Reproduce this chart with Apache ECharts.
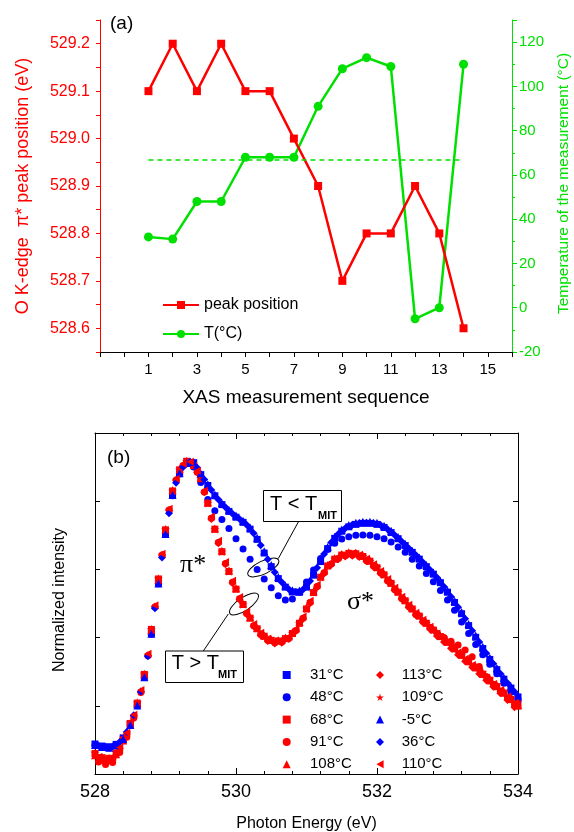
<!DOCTYPE html>
<html>
<head>
<meta charset="utf-8">
<script src="https://cdn.jsdelivr.net/npm/echarts@6/dist/echarts.min.js"></script>
<style>
  html, body { margin: 0; padding: 0; background: #fff; }
  #chart { width: 574px; height: 832px; }
</style>
</head>
<body>
<div id="chart"></div>
<script>
// ---------- Panel (a): peak position and temperature over the XAS sequence ----------
const sequence = [1, 2, 3, 4, 5, 6, 7, 8, 9, 10, 11, 12, 13, 14];
const peakPosition = [529.1, 529.2, 529.1, 529.2, 529.1, 529.1, 529.0, 528.9, 528.7, 528.8, 528.8, 528.9, 528.8, 528.6];
const temperature = [32, 31, 48, 48, 68, 68, 68, 91, 108, 113, 109, -5, 0, 110];
const tMit = 67;              // transition temperature, dashed guide
const tMitRange = [1, 14];    // sequence span of the guide

// ---------- Panel (b): O K-edge spectra ----------
// two energy grids (scans were recorded on interleaved grids)
const energiesA = [528.0, 528.1, 528.2, 528.3, 528.4, 528.5, 528.6, 528.7, 528.8, 528.9,
  529.0, 529.1, 529.2, 529.3, 529.4, 529.5, 529.6, 529.7, 529.8, 529.9,
  530.0, 530.1, 530.2, 530.3, 530.4, 530.5, 530.6, 530.7, 530.8, 530.9,
  531.0, 531.1, 531.2, 531.3, 531.4, 531.5, 531.6, 531.7, 531.8, 531.9,
  532.0, 532.1, 532.2, 532.3, 532.4, 532.5, 532.6, 532.7, 532.8, 532.9,
  533.0, 533.1, 533.2, 533.3, 533.4, 533.5, 533.6, 533.7, 533.8, 533.9, 534.0];
const energiesB = [528.05, 528.15, 528.25, 528.35, 528.45, 528.55, 528.65, 528.75, 528.85, 528.95,
  529.05, 529.15, 529.25, 529.35, 529.45, 529.55, 529.65, 529.75, 529.85, 529.95,
  530.05, 530.15, 530.25, 530.35, 530.45, 530.55, 530.65, 530.75, 530.85, 530.95,
  531.05, 531.15, 531.25, 531.35, 531.45, 531.55, 531.65, 531.75, 531.85, 531.95,
  532.05, 532.15, 532.25, 532.35, 532.45, 532.55, 532.65, 532.75, 532.85, 532.95,
  533.05, 533.15, 533.25, 533.35, 533.45, 533.55, 533.65, 533.75, 533.85, 533.95];

// grid A
const s31 = [0.088,0.082,0.080,0.087,0.106,0.147,0.204,0.287,0.414,0.562,0.706,0.819,0.883,0.912,0.913,0.878,0.846,0.816,0.790,0.770,0.753,0.738,0.718,0.688,0.648,0.608,0.573,0.548,0.534,0.533,0.548,0.583,0.623,0.661,0.691,0.712,0.725,0.732,0.735,0.735,0.732,0.723,0.708,0.690,0.670,0.650,0.630,0.608,0.586,0.561,0.533,0.503,0.470,0.435,0.401,0.368,0.336,0.306,0.278,0.252,0.226];
const s48 = [0.084,0.078,0.076,0.083,0.102,0.143,0.200,0.283,0.410,0.558,0.703,0.816,0.880,0.910,0.900,0.855,0.805,0.772,0.746,0.720,0.690,0.660,0.630,0.600,0.572,0.546,0.523,0.510,0.513,0.533,0.563,0.598,0.632,0.658,0.677,0.689,0.696,0.700,0.701,0.700,0.696,0.690,0.680,0.666,0.650,0.630,0.610,0.588,0.564,0.538,0.510,0.480,0.446,0.412,0.380,0.350,0.322,0.294,0.266,0.240,0.214];
const s68 = [0.060,0.048,0.046,0.062,0.100,0.148,0.208,0.292,0.424,0.572,0.716,0.830,0.892,0.917,0.905,0.866,0.794,0.718,0.652,0.594,0.542,0.497,0.457,0.426,0.404,0.392,0.390,0.397,0.412,0.442,0.484,0.532,0.577,0.610,0.630,0.642,0.647,0.646,0.638,0.624,0.605,0.584,0.559,0.533,0.508,0.484,0.463,0.442,0.422,0.403,0.386,0.367,0.348,0.329,0.311,0.292,0.273,0.256,0.237,0.218,0.199];
const s108 = [0.055,0.042,0.040,0.058,0.098,0.146,0.206,0.292,0.422,0.570,0.718,0.832,0.894,0.918,0.906,0.868,0.796,0.720,0.655,0.597,0.545,0.500,0.460,0.428,0.406,0.394,0.392,0.400,0.416,0.446,0.488,0.536,0.580,0.613,0.633,0.645,0.650,0.649,0.641,0.627,0.608,0.587,0.562,0.536,0.511,0.487,0.466,0.445,0.425,0.406,0.389,0.370,0.351,0.332,0.314,0.295,0.276,0.259,0.240,0.221,0.202];
const s109 = [0.062,0.050,0.047,0.064,0.102,0.150,0.210,0.294,0.425,0.574,0.718,0.831,0.893,0.917,0.906,0.867,0.794,0.718,0.652,0.594,0.543,0.497,0.458,0.427,0.405,0.393,0.391,0.398,0.413,0.443,0.485,0.533,0.578,0.611,0.631,0.643,0.648,0.647,0.639,0.625,0.606,0.585,0.560,0.534,0.509,0.485,0.464,0.443,0.423,0.404,0.387,0.368,0.349,0.333,0.318,0.300,0.282,0.263,0.244,0.226,0.212];
const sMinus5 = [0.085,0.079,0.077,0.084,0.103,0.144,0.201,0.284,0.411,0.559,0.704,0.818,0.882,0.912,0.915,0.882,0.850,0.820,0.795,0.775,0.758,0.743,0.723,0.693,0.653,0.613,0.578,0.553,0.539,0.538,0.553,0.588,0.628,0.666,0.696,0.717,0.730,0.737,0.740,0.740,0.737,0.728,0.713,0.695,0.675,0.655,0.635,0.613,0.591,0.566,0.538,0.508,0.475,0.440,0.406,0.373,0.341,0.311,0.283,0.257,0.231];
// grid B
const s91 = [0.035,0.028,0.034,0.063,0.108,0.164,0.239,0.347,0.490,0.642,0.774,0.862,0.905,0.913,0.885,0.827,0.750,0.679,0.617,0.562,0.514,0.471,0.435,0.409,0.392,0.385,0.387,0.398,0.421,0.457,0.503,0.550,0.590,0.616,0.632,0.640,0.642,0.638,0.626,0.610,0.590,0.567,0.541,0.515,0.491,0.468,0.448,0.430,0.413,0.400,0.389,0.378,0.364,0.344,0.315,0.286,0.263,0.243,0.223,0.203];
const s113 = [0.047,0.040,0.046,0.075,0.117,0.170,0.241,0.348,0.491,0.642,0.774,0.862,0.905,0.913,0.885,0.826,0.748,0.677,0.615,0.560,0.512,0.469,0.433,0.407,0.390,0.383,0.385,0.396,0.419,0.455,0.501,0.548,0.588,0.614,0.630,0.638,0.640,0.636,0.624,0.608,0.588,0.565,0.539,0.513,0.489,0.466,0.445,0.425,0.405,0.387,0.369,0.350,0.331,0.313,0.294,0.275,0.256,0.237,0.217,0.196];
const s110 = [0.050,0.042,0.049,0.078,0.121,0.174,0.246,0.353,0.495,0.646,0.778,0.866,0.909,0.916,0.889,0.831,0.755,0.684,0.622,0.567,0.519,0.476,0.440,0.414,0.397,0.390,0.392,0.403,0.426,0.462,0.508,0.555,0.595,0.621,0.637,0.645,0.647,0.643,0.631,0.615,0.595,0.572,0.546,0.520,0.496,0.473,0.452,0.432,0.412,0.394,0.377,0.357,0.338,0.320,0.302,0.282,0.264,0.246,0.227,0.208];
const s36 = [0.083,0.079,0.081,0.094,0.123,0.172,0.242,0.345,0.486,0.635,0.765,0.854,0.900,0.916,0.898,0.864,0.833,0.805,0.782,0.763,0.748,0.731,0.706,0.671,0.630,0.592,0.562,0.542,0.534,0.541,0.566,0.605,0.645,0.679,0.704,0.721,0.731,0.736,0.737,0.736,0.730,0.718,0.701,0.682,0.662,0.642,0.621,0.599,0.576,0.549,0.520,0.489,0.455,0.420,0.387,0.354,0.323,0.294,0.267,0.241];

const spectra = [
  { name: '31°C',  energies: energiesA, values: s31 },
  { name: '48°C',  energies: energiesA, values: s48 },
  { name: '68°C',  energies: energiesA, values: s68 },
  { name: '91°C',  energies: energiesB, values: s91 },
  { name: '108°C', energies: energiesA, values: s108 },
  { name: '113°C', energies: energiesB, values: s113 },
  { name: '109°C', energies: energiesA, values: s109 },
  { name: '-5°C',  energies: energiesA, values: sMinus5 },
  { name: '36°C',  energies: energiesB, values: s36 },
  { name: '110°C', energies: energiesB, values: s110 }
];
const legendColumn1 = ['31°C', '48°C', '68°C', '91°C', '108°C'];
const legendColumn2 = ['113°C', '109°C', '-5°C', '36°C', '110°C'];

// ---------- styling ----------
const FONT = '"Liberation Sans", Arial, Helvetica, sans-serif';
const SERIF = '"Liberation Serif", "Times New Roman", serif';
const RED = '#ff0000';
const GREEN = '#00e000';
const BLUE = '#0000ff';
const STAR = 'path://M50,0 L61,35 L98,35 L68,57 L79,91 L50,70 L21,91 L32,57 L2,35 L39,35 Z';
const LEFT_TRIANGLE = 'path://M0,50 L90,0 L90,100 Z';

const markerStyle = {
  '31°C':  { color: BLUE, symbol: 'rect', size: 7 },
  '48°C':  { color: BLUE, symbol: 'circle', size: 7 },
  '68°C':  { color: RED,  symbol: 'rect', size: 7 },
  '91°C':  { color: RED,  symbol: 'circle', size: 7 },
  '108°C': { color: RED,  symbol: 'triangle', size: 8 },
  '113°C': { color: RED,  symbol: 'diamond', size: 8 },
  '109°C': { color: RED,  symbol: STAR, size: 9 },
  '-5°C':  { color: BLUE, symbol: 'triangle', size: 8 },
  '36°C':  { color: BLUE, symbol: 'diamond', size: 8 },
  '110°C': { color: RED,  symbol: LEFT_TRIANGLE, size: 8 }
};

const chart = echarts.init(document.getElementById('chart'), null, { renderer: 'canvas' });

const spectrumSeries = spectra.map(s => {
  const st = markerStyle[s.name];
  return {
    name: s.name,
    type: 'scatter',
    xAxisIndex: 1,
    yAxisIndex: 2,
    symbol: st.symbol,
    symbolSize: st.size,
    symbolKeepAspect: true,
    itemStyle: { color: st.color, opacity: 1 },
    emphasis: { disabled: true },
    clip: true,
    data: s.energies.map((e, i) => [e, s.values[i]])
  };
});

const blackLine = { color: '#000', width: 1 };

function text(x, y, str, opts) {
  return Object.assign({
    type: 'text', x: x, y: y, silent: true,
    style: Object.assign({
      text: str, fill: '#000', font: '16px ' + FONT,
      align: 'left', verticalAlign: 'middle'
    }, opts && opts.style)
  }, opts && opts.el);
}

const spectrumLegend = (names, left, pad) => ({
  data: names,
  orient: 'vertical', left: left, top: 662,
  itemWidth: 8, itemHeight: 8, itemGap: 6.3,
  symbolKeepAspect: true,
  textStyle: { fontSize: 15, color: '#000', fontFamily: FONT, lineHeight: 16, padding: [0, 0, 0, pad] },
  selectedMode: false
});

const option = {
  animation: false,
  backgroundColor: '#fff',
  grid: [
    { left: 100, right: 62, top: 20, height: 332 },
    { left: 95, right: 56, top: 433, height: 341 }
  ],
  xAxis: [
    {
      gridIndex: 0, type: 'value', min: -1, max: 16, interval: 1,
      axisLine: { show: true, onZero: false, lineStyle: blackLine },
      axisTick: { show: true, inside: false, length: 5, lineStyle: blackLine },
      axisLabel: {
        fontSize: 15, color: '#000', fontFamily: FONT, margin: 10,
        formatter: v => (v >= 1 && v <= 15 && Math.round(v) % 2 === 1) ? String(Math.round(v)) : ''
      },
      splitLine: { show: false }
    },
    {
      gridIndex: 1, type: 'value', min: 528, max: 534, interval: 2,
      axisLine: { show: true, onZero: false, lineStyle: blackLine },
      axisTick: { show: true, inside: true, length: 6, lineStyle: blackLine },
      minorTick: { show: true, splitNumber: 5, length: 3, lineStyle: blackLine },
      axisLabel: { fontSize: 18, color: '#000', fontFamily: FONT, margin: 9 },
      splitLine: { show: false }, minorSplitLine: { show: false }
    },
    {
      gridIndex: 1, type: 'value', position: 'top', min: 528, max: 534, interval: 2,
      axisLine: { show: true, onZero: false, lineStyle: blackLine },
      axisTick: { show: true, inside: true, length: 6, lineStyle: blackLine },
      minorTick: { show: true, splitNumber: 5, length: 3, lineStyle: blackLine },
      axisLabel: { show: false },
      splitLine: { show: false }, minorSplitLine: { show: false }
    }
  ],
  yAxis: [
    {
      gridIndex: 0, type: 'value', position: 'left', min: 528.55, max: 529.25, interval: 0.05,
      axisLine: { show: true, onZero: false, lineStyle: { color: RED, width: 1 } },
      axisTick: { show: true, inside: false, length: 4, lineStyle: { color: RED, width: 1 } },
      axisLabel: {
        fontSize: 16, color: RED, fontFamily: FONT, margin: 10,
        formatter: v => Math.abs(v * 10 - Math.round(v * 10)) < 1e-6 && v < 529.24 && v > 528.56 ? v.toFixed(1) : ''
      },
      splitLine: { show: false }
    },
    {
      gridIndex: 0, type: 'value', position: 'right', min: -20, max: 130, interval: 20,
      axisLine: { show: true, onZero: false, lineStyle: { color: GREEN, width: 1 } },
      axisTick: { show: true, inside: false, length: 5, lineStyle: { color: GREEN, width: 1 } },
      minorTick: { show: true, splitNumber: 2, length: 3, lineStyle: { color: GREEN, width: 1 } },
      axisLabel: {
        fontSize: 15, color: GREEN, fontFamily: FONT, margin: 7,
        formatter: v => (Math.round(v) % 20 === 0 && v <= 120) ? String(v) : ''
      },
      splitLine: { show: false }, minorSplitLine: { show: false }
    },
    {
      gridIndex: 1, type: 'value', min: 0, max: 1, interval: 0.2,
      axisLine: { show: true, onZero: false, lineStyle: blackLine },
      axisTick: { show: true, inside: true, length: 5, lineStyle: blackLine },
      axisLabel: { show: false },
      splitLine: { show: false }
    },
    {
      gridIndex: 1, type: 'value', position: 'right', min: 0, max: 1, interval: 0.2,
      axisLine: { show: true, onZero: false, lineStyle: blackLine },
      axisTick: { show: true, inside: true, length: 5, lineStyle: blackLine },
      axisLabel: { show: false },
      splitLine: { show: false }
    }
  ],
  legend: [
    {
      data: ['peak position', 'T(°C)'],
      orient: 'vertical', left: 157, top: 292,
      itemWidth: 36, itemHeight: 10, itemGap: 13,
      textStyle: { fontSize: 16, color: '#000', fontFamily: FONT, lineHeight: 16 },
      selectedMode: false
    },
    spectrumLegend(legendColumn1, 277.7, 14.3),
    spectrumLegend(legendColumn2, 371, 12.7)
  ],
  series: [
    {
      name: 'peak position', type: 'line', xAxisIndex: 0, yAxisIndex: 0,
      symbol: 'rect', symbolSize: 8,
      lineStyle: { color: RED, width: 2.5 },
      itemStyle: { color: RED },
      emphasis: { disabled: true },
      z: 3,
      data: sequence.map((s, i) => [s, peakPosition[i]])
    },
    {
      name: 'T(°C)', type: 'line', xAxisIndex: 0, yAxisIndex: 1,
      symbol: 'circle', symbolSize: 9,
      lineStyle: { color: GREEN, width: 2.5 },
      itemStyle: { color: GREEN },
      emphasis: { disabled: true },
      z: 2,
      data: sequence.map((s, i) => [s, temperature[i]]),
      markLine: {
        silent: true, symbol: ['none', 'none'], label: { show: false },
        lineStyle: { color: GREEN, width: 1.5, type: [5, 4] },
        data: [[{ coord: [tMitRange[0], tMit] }, { coord: [tMitRange[1], tMit] }]]
      }
    }
  ].concat(spectrumSeries),
  graphic: [
    // panel (a) texts
    text(110, 23.5, '(a)', { style: { font: '19px ' + FONT } }),
    text(23, 186, 'O K-edge  π* peak position (eV)', {
      style: { font: '18px ' + FONT, fill: RED, align: 'center' }, el: { rotation: Math.PI / 2 }
    }),
    text(564, 183.5, 'Temperature of the measurement (°C)', {
      style: { font: '15.5px ' + FONT, fill: GREEN, align: 'center' }, el: { rotation: Math.PI / 2 }
    }),
    text(306, 398, 'XAS measurement sequence', { style: { font: '19px ' + FONT, align: 'center' } }),

    // panel (b) texts
    text(107, 458, '(b)', { style: { font: '19px ' + FONT } }),
    text(60, 600, 'Normalized intensity', {
      style: { font: '16px ' + FONT, align: 'center' }, el: { rotation: Math.PI / 2 }
    }),
    text(306.5, 824, 'Photon Energy (eV)', { style: { font: '16px ' + FONT, align: 'center' } }),
    text(180, 565, 'π*', { style: { font: '26px ' + SERIF } }),
    text(347, 602, 'σ*', { style: { font: '26px ' + SERIF } }),

    // T < T_MIT callout
    { type: 'rect', silent: true, shape: { x: 263.5, y: 490.5, width: 78, height: 31 },
      style: { fill: '#fff', stroke: '#000', lineWidth: 1 } },
    text(270, 504.5, 'T < T', { style: { font: '20px ' + FONT } }),
    text(318, 516, 'MIT', { style: { font: 'bold 11px ' + FONT } }),
    { type: 'line', silent: true, shape: { x1: 298.3, y1: 522, x2: 278.3, y2: 558.5 },
      style: { stroke: '#000', lineWidth: 1 } },
    { type: 'ellipse', silent: true, x: 263.3, y: 567.5, rotation: 0.45,
      shape: { cx: 0, cy: 0, rx: 17, ry: 6.5 },
      style: { fill: 'none', stroke: '#000', lineWidth: 1 } },

    // T > T_MIT callout
    { type: 'rect', silent: true, shape: { x: 165.5, y: 651, width: 78, height: 31.5 },
      style: { fill: '#fff', stroke: '#000', lineWidth: 1 } },
    text(171.7, 663.7, 'T > T', { style: { font: '20px ' + FONT } }),
    text(218, 675, 'MIT', { style: { font: 'bold 11px ' + FONT } }),
    { type: 'line', silent: true, shape: { x1: 203.3, y1: 651, x2: 228.3, y2: 614 },
      style: { stroke: '#000', lineWidth: 1 } },
    { type: 'ellipse', silent: true, x: 244, y: 604, rotation: 0.6,
      shape: { cx: 0, cy: 0, rx: 17, ry: 6.5 },
      style: { fill: 'none', stroke: '#000', lineWidth: 1 } }
  ]
};

chart.setOption(option);
</script>
</body>
</html>
